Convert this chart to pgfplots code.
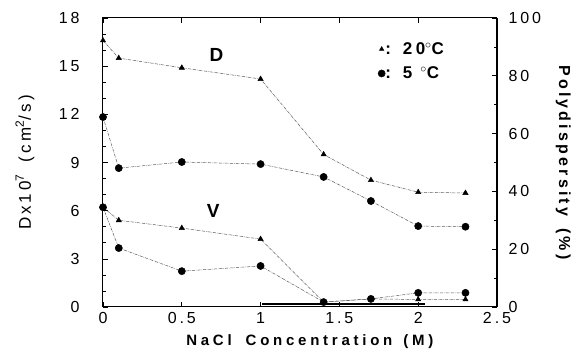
\documentclass[border=0pt]{standalone}
\usepackage{pgfplots}
\pgfplotsset{compat=1.18}
\usepackage{fontspec}
\setmainfont{Liberation Sans}
\newfontfamily\tickfont[LetterSpace=18]{Liberation Sans}
\newfontfamily\labfont[LetterSpace=20]{Liberation Sans}
\newfontfamily\xlabfont[LetterSpace=25]{Liberation Sans}
\newcommand{\supr}[1]{\raisebox{7pt}{\fontsize{12}{12}\selectfont #1}}
\begin{document}
\begin{tikzpicture}
\pgfplotsset{
  common/.style={
    scale only axis, width=394pt, height=289pt,
    xmin=0, xmax=2.5,
    xtick={0,0.5,1,1.5,2,2.5},
    xticklabels={0,0.5,1,1.5,2,2.5},
    tick style={black, line width=0.6pt},
    major tick length=5pt, minor tick length=3pt,
    tick label style={font=\fontsize{16}{16}\selectfont\tickfont},
    /pgf/number format/assume math mode=true,
    axis line style={line width=1pt},
  },
  dline/.style={black!65, line width=0.5pt, densely dashdotted},
  tri/.style={mark=triangle*, mark size=3pt, mark options={solid, fill=black, draw=black}},
  cir/.style={mark=*, mark size=3.6pt, mark options={solid, fill=black, draw=black}},
}
\begin{axis}[common, name=ax,
  ymin=0, ymax=18, ytick={0,3,...,18}, ytick pos=left,
  minor y tick num=2,
  yticklabel style={xshift=-20pt},
  xticklabel style={yshift=-2pt},
  xlabel={\fontsize{15}{15}\selectfont\xlabfont\bfseries NaCl\hspace*{14pt}Concentration\hspace*{11pt}(M)},
  xlabel style={at={(axis description cs:0.525,-0.121)}, anchor=center},
  ylabel={\fontsize{17}{17}\selectfont\labfont D\,x\,10\supr{7}\hspace*{12pt}(cm\supr{2}/s)},
  ylabel style={at={(axis description cs:-0.198,0.5)}, anchor=center},
  legend style={draw=none, fill=none, at={(0.69,0.93)}, anchor=north west,
    font=\fontsize{17}{17}\selectfont\labfont\bfseries, row sep=7pt},
  legend cell align=left,
  clip=false,
]
\addlegendimage{only marks, mark=triangle*, mark size=2.6pt, mark options={fill=black}}
\addlegendentry{\hspace*{-2pt}:\hspace*{12pt}20$^\circ$C}
\addlegendimage{only marks, mark=*, mark size=3.6pt, mark options={fill=black}}
\addlegendentry{\hspace*{-2pt}:\hspace*{12pt}5\hspace*{8pt}$^\circ$C}
% D, 20 C
\addplot[dline, tri] coordinates {(0,16.6) (0.1,15.5) (0.5,14.9) (1.0,14.2) (1.4,9.5) (1.7,7.9) (2.0,7.15) (2.3,7.1)};
% D, 5 C
\addplot[dline, cir] coordinates {(0,11.83) (0.1,8.65) (0.5,9.03) (1.0,8.9) (1.4,8.1) (1.7,6.6) (2.0,5.04) (2.3,5.0)};
% thick bar near bottom
\addplot[black, line width=2.2pt, no marks] coordinates {(1.01,0.2) (2.04,0.2)};
\node[font=\fontsize{19}{19}\selectfont\bfseries] at (axis cs:0.72,15.7) {D};
\node[font=\fontsize{19}{19}\selectfont\bfseries] at (axis cs:0.70,6.0) {V};
\end{axis}
\begin{axis}[common,
  ymin=0, ymax=100, ytick={0,20,...,100},
  minor y tick num=1,
  axis y line*=right, axis x line=none,
  yticklabel style={xshift=8pt},
  ylabel={\fontsize{16}{16}\selectfont\labfont\bfseries Polydispersity\hspace*{12pt}(\%)},
  ylabel style={at={(axis description cs:1.168,0.5)}, anchor=center, rotate=180},
]
% V, 20 C
\addplot[dline, tri] coordinates {(0,34.5) (0.1,30) (0.5,27.3) (1.0,23.5) (1.4,1.7) (1.7,2.8) (2.0,2.6) (2.3,2.6)};
% V, 5 C
\addplot[dline, cir] coordinates {(0,34.5) (0.1,20.4) (0.5,12.4) (1.0,14.2) (1.4,1.7) (1.7,2.8) (2.0,4.9) (2.3,4.9)};
\end{axis}
\path ([shift={(-103pt,-48pt)}]ax.south west) rectangle ([shift={(79pt,18pt)}]ax.north east);
\end{tikzpicture}
\end{document}
